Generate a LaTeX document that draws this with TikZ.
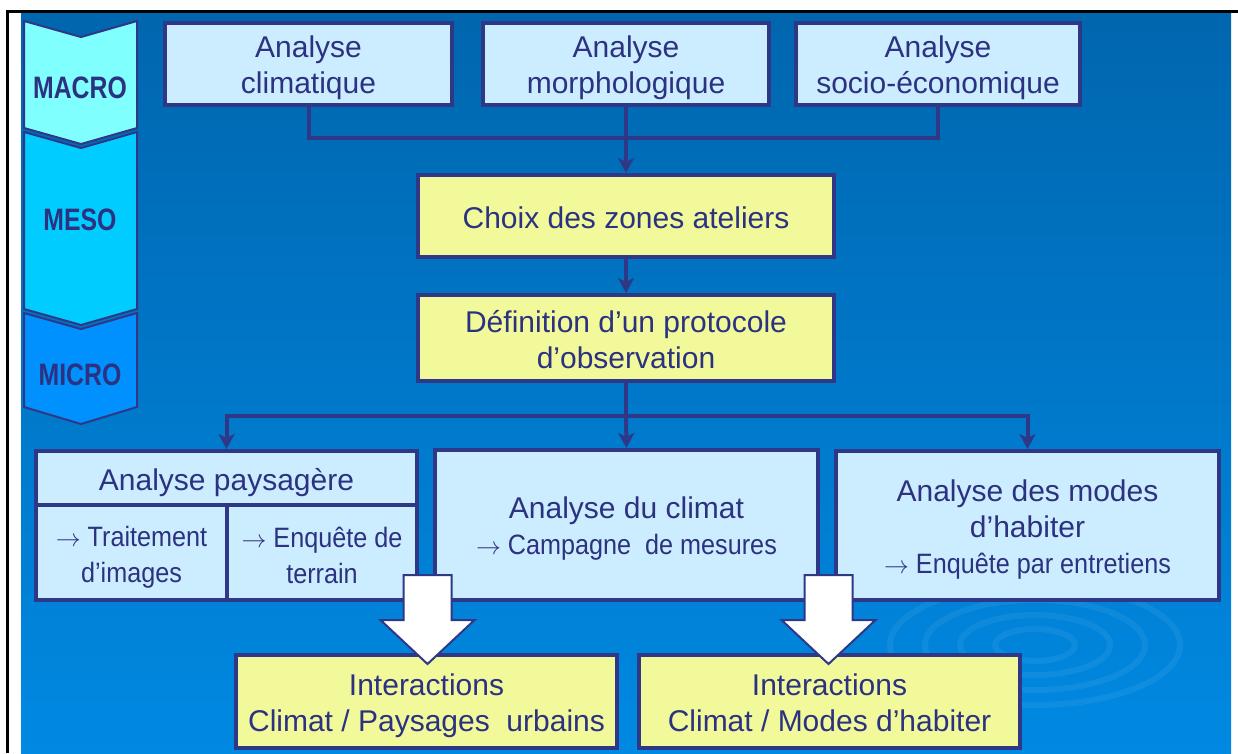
\documentclass[tikz,border=0pt]{standalone}
\usepackage{fontspec}
\setmainfont{Liberation Sans}
\newfontfamily\narrowf[FakeStretch=0.9]{Liberation Sans}
\newfontfamily\condf[FakeStretch=0.8]{Liberation Sans}
\usetikzlibrary{arrows.meta}
\definecolor{navy}{RGB}{46,56,135}
\definecolor{txt}{RGB}{44,50,128}
\definecolor{lblue}{RGB}{204,236,255}
\definecolor{lyel}{RGB}{241,249,155}
\definecolor{bgtop}{RGB}{0,102,174}
\definecolor{bgmid}{RGB}{0,112,190}
\definecolor{bgbot}{RGB}{0,137,226}
\definecolor{cmacro}{RGB}{128,255,255}
\definecolor{cmeso}{RGB}{0,204,255}
\definecolor{cmicro}{RGB}{0,145,255}
\begin{document}
\begin{tikzpicture}[x=1pt,y=-1pt,
 box/.style={draw=navy,line width=4pt,rectangle,inner sep=0pt},
 bluebox/.style={box,fill=lblue},
 yelbox/.style={box,fill=lyel},
 lab/.style={inner sep=0pt,align=center,text=txt,font=\fontsize{30}{36}\selectfont},
 sublab/.style={lab,font=\narrowf\fontsize{28}{36}\selectfont},
 conn/.style={draw=navy,line width=4pt},
 arr/.style={conn,-{Stealth[length=15pt,width=16pt,inset=4pt]}},
 fat/.style={draw=navy,line width=2pt,fill=white,line join=miter},
 chev/.style={draw=navy,line width=2pt},
 lvl/.style={text=txt,inner sep=0pt,font=\condf\bfseries\fontsize{31}{33}\selectfont}
]
\useasboundingbox (0,0) rectangle (1238,753);
\fill[white] (0,0) rectangle (1238,753);
\shade[top color=bgtop, middle color=bgmid, bottom color=bgbot] (21,12) rectangle (1231,753);
\draw[line width=3pt] (7,753) -- (7,11) -- (1238,11);

% ripples
\begin{scope}[white,opacity=0.06,line width=6pt]
 \draw (1035,645) ellipse [x radius=40,y radius=16];
 \draw (1035,645) ellipse [x radius=75,y radius=30];
 \draw (1035,645) ellipse [x radius=110,y radius=45];
 \draw (1035,645) ellipse [x radius=145,y radius=60];
\end{scope}

% level chevrons
\filldraw[chev,fill=cmacro] (24,21) -- (81,37) -- (137,21) -- (137,128) -- (81,144) -- (24,128) -- cycle;
\filldraw[chev,fill=cmeso] (24,132) -- (81,148) -- (137,132) -- (137,309) -- (81,325) -- (24,309) -- cycle;
\filldraw[chev,fill=cmicro] (24,313) -- (81,329) -- (137,313) -- (137,407) -- (81,424) -- (24,407) -- cycle;
\node[lvl] (macro) at (80,88) {MACRO};
\node[lvl] (meso) at (80,220) {MESO};
\node[lvl] (micro) at (80,375) {MICRO};

% top boxes
\node[bluebox,minimum width=287pt,minimum height=82pt] (clim) at (308.5,64) {};
\node[bluebox,minimum width=286pt,minimum height=82pt] (morph) at (626,64) {};
\node[bluebox,minimum width=284pt,minimum height=82pt] (socio) at (938,64) {};
\node[lab] (clim-t) at ([yshift=-4pt]clim.center) {Analyse\\climatique};
\node[lab] (morph-t) at ([yshift=-4pt]morph.center) {Analyse\\morphologique};
\node[lab] (socio-t) at ([yshift=-4pt]socio.center) {Analyse\\socio-économique};

\node[yelbox,minimum width=416pt,minimum height=82pt] (choix) at (626,216) {};
\node[yelbox,minimum width=416pt,minimum height=86pt] (defi) at (626,338) {};
\node[lab] (choix-t) at ([yshift=-2pt]choix.center) {Choix des zones ateliers};
\node[lab] (defi-t) at ([yshift=-2pt]defi.center) {Définition d’un protocole\\d’observation};

% lower boxes
\node[bluebox,minimum width=381pt,minimum height=54pt] (pays) at (226.5,478) {};
\node[bluebox,minimum width=191pt,minimum height=95pt] (trait) at (131.5,552.5) {};
\node[bluebox,minimum width=190pt,minimum height=95pt] (enq) at (322,552.5) {};
\node[bluebox,minimum width=383pt,minimum height=150pt] (clim2) at (626.5,525) {};
\node[bluebox,minimum width=383pt,minimum height=149pt] (modes) at (1027.5,525.5) {};
\node[lab] (pays-t) at ([yshift=-5pt]pays.center) {Analyse paysagère};
\node[sublab] (trait-t) at ([yshift=-5pt]trait.center) {$\rightarrow$ Traitement\\d’images};
\node[sublab] (enq-t) at ([yshift=-3pt]enq.center) {$\rightarrow$ Enquête de\\terrain};
\node[lab] (clim2-t) at ([yshift=-4pt]clim2.center) {Analyse du climat\\\narrowf\fontsize{28}{36}\selectfont $\rightarrow$ Campagne\ \ de mesures};
\node[lab] (modes-t) at ([yshift=-4pt]modes.center) {Analyse des modes\\d’habiter\\\narrowf\fontsize{28}{36}\selectfont $\rightarrow$ Enquête par entretiens};

\node[yelbox,minimum width=381pt,minimum height=93pt] (inter1) at (426.5,701.5) {};
\node[yelbox,minimum width=381pt,minimum height=93pt] (inter2) at (829.5,701.5) {};
\node[lab] (inter1-t) at ([yshift=-4pt]inter1.center) {Interactions\\Climat / Paysages\ \ urbains};
\node[lab] (inter2-t) at ([yshift=-1pt]inter2.center) {Interactions\\Climat / Modes d’habiter};

% connectors
\coordinate (j1) at (626,138);
\coordinate (j2) at (626,416);
\draw[conn] (clim.south) |- (j1) -| (socio.south);
\draw[arr] (morph.south) -- (choix.north);
\draw[arr] (choix.south) -- (defi.north);
\draw[conn] (defi.south) -- (j2);
\draw[arr] (j2) -| (pays.north);
\draw[arr] (j2) -- (clim2.north);
\draw[arr] (j2) -| (modes.north);

% big white arrows
\path (inter1.north) ++(1,11) coordinate (t1);
\path (inter2.north) ++(-1,11) coordinate (t2);
\draw[fat] (t1) -- ++(-47,-44) -- ++(23,0) -- ++(0,-45) -- ++(48,0) -- ++(0,45) -- ++(23,0) -- cycle;
\draw[fat] (t2) -- ++(-47,-44) -- ++(23,0) -- ++(0,-45) -- ++(48,0) -- ++(0,45) -- ++(23,0) -- cycle;
\end{tikzpicture}
\end{document}
